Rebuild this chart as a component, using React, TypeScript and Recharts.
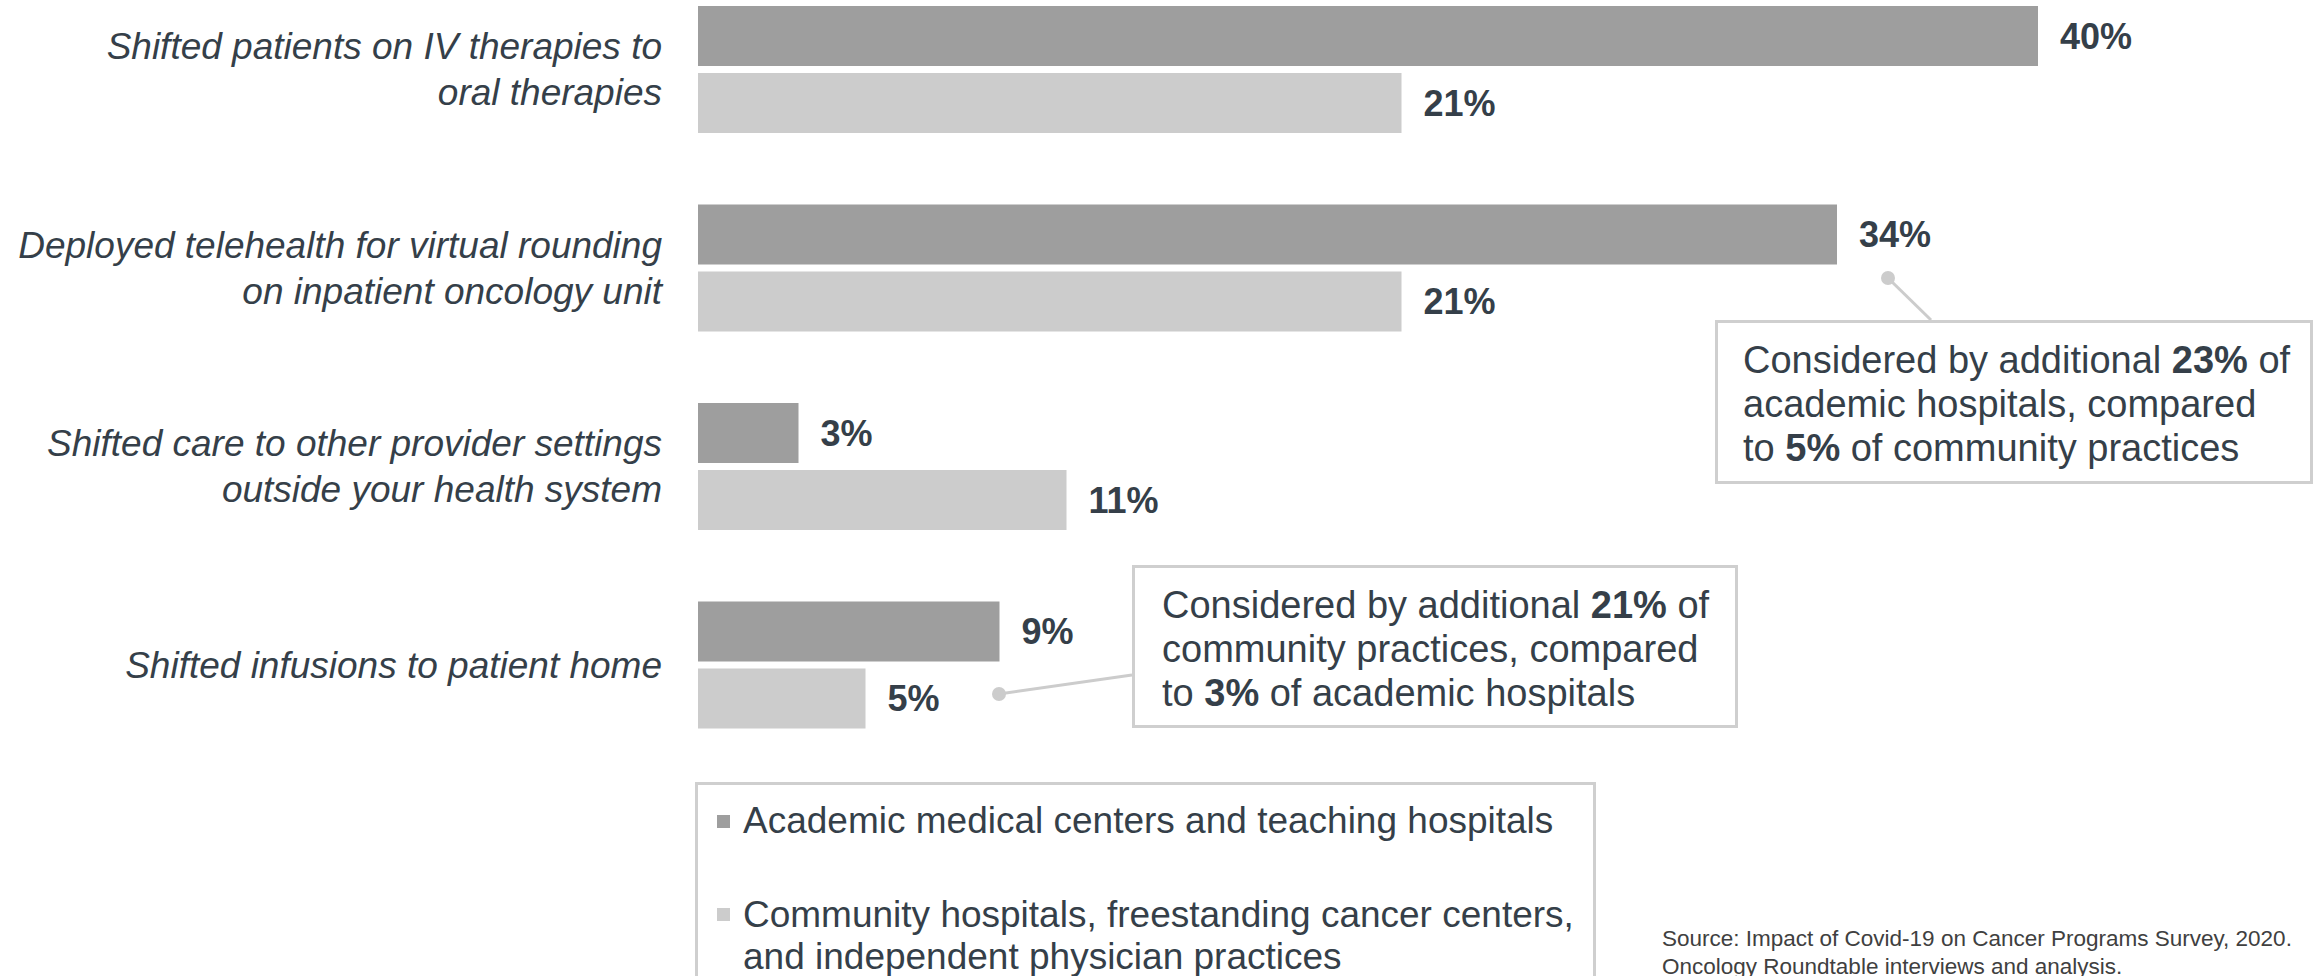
import { BarChart, Bar, XAxis, YAxis, LabelList } from "recharts";

const categories = [
    ["Shifted patients on IV therapies to", "oral therapies"],
    ["Deployed telehealth for virtual rounding", "on inpatient oncology unit"],
    ["Shifted care to other provider settings", "outside your health system"],
    ["Shifted infusions to patient home"],
];
const academic = [40, 34, 3, 9];
const community = [21, 21, 11, 5];
const seriesNames = [
    "Academic medical centers and teaching hospitals",
    "Community hospitals, freestanding cancer centers, and independent physician practices",
];

const TEXT = "#353f49";
const DARK = "#9e9e9e";
const LIGHT = "#cccccc";
const BORDER = "#cfcfcf";
const FONT = "'Liberation Sans', Arial, Helvetica, sans-serif";

const data = categories.map((lines, i) => ({
    name: lines.join(" "),
    lines,
    academic: academic[i],
    community: community[i],
}));

function CategoryTick(props: any) {
    const { x, y, payload, index } = props;
    const lines: string[] = data[index]?.lines ?? [payload.value];
    const lh = 46;
    const start = -((lines.length - 1) * lh) / 2;
    return (
        <text x={x} y={y} textAnchor="end" fontStyle="italic" fontSize={37} fill={TEXT} fontFamily={FONT}>
            {lines.map((l, i) => (
                <tspan key={i} x={x} y={y + start + i * lh + 13}>{l}</tspan>
            ))}
        </text>
    );
}

const boxText: React.CSSProperties = {
    position: "absolute",
    boxSizing: "border-box",
    border: `3px solid ${BORDER}`,
    background: "#fff",
    fontSize: 38,
    lineHeight: "44px",
    color: TEXT,
    whiteSpace: "nowrap",
};

export default function App() {
    return (
        <div style={{ position: "absolute", left: 0, top: 0, width: 2315, height: 976, overflow: "hidden", background: "#fff", fontFamily: FONT }}>
            <div style={{ position: "absolute", left: 0, top: -30 }}>
                <BarChart
                    width={2315}
                    height={800}
                    data={data}
                    layout="vertical"
                    margin={{ top: 0, right: 9, bottom: 6, left: 0 }}
                    barSize={60}
                    barGap={7}
                >
                    <XAxis type="number" domain={[0, 48]} hide />
                    <YAxis
                        type="category"
                        dataKey="name"
                        width={698}
                        tickLine={false}
                        axisLine={false}
                        tickSize={0}
                        tickMargin={36}
                        tick={<CategoryTick />}
                        interval={0}
                    />
                    <Bar dataKey="academic" fill={DARK} isAnimationActive={false}>
                        <LabelList dataKey="academic" position="right" offset={22} formatter={(v: any) => `${v}%`}
                            style={{ fontSize: 36, fontWeight: 700, fill: TEXT, fontFamily: FONT }} />
                    </Bar>
                    <Bar dataKey="community" fill={LIGHT} isAnimationActive={false}>
                        <LabelList dataKey="community" position="right" offset={22} formatter={(v: any) => `${v}%`}
                            style={{ fontSize: 36, fontWeight: 700, fill: TEXT, fontFamily: FONT }} />
                    </Bar>
                </BarChart>
            </div>

            {/* callout connectors */}
            <svg width={2315} height={976} style={{ position: "absolute", left: 0, top: 0, pointerEvents: "none" }}>
                <line x1={1888} y1={278} x2={1931} y2={320} stroke={LIGHT} strokeWidth={3} />
                <circle cx={1888} cy={278} r={7} fill={LIGHT} />
                <line x1={999} y1={694} x2={1132} y2={675} stroke={LIGHT} strokeWidth={3} />
                <circle cx={999} cy={694} r={7} fill={LIGHT} />
            </svg>

            <div style={{ ...boxText, left: 1715, top: 320, width: 598, height: 164, padding: "15px 0 0 25px" }}>
                Considered by additional <b>23%</b> of<br />
                academic hospitals, compared<br />
                to <b>5%</b> of community practices
            </div>
            <div style={{ ...boxText, left: 1132, top: 565, width: 606, height: 163, padding: "15px 0 0 27px" }}>
                Considered by additional <b>21%</b> of<br />
                community practices, compared<br />
                to <b>3%</b> of academic hospitals
            </div>

            {/* legend */}
            <div style={{ position: "absolute", boxSizing: "border-box", left: 695, top: 782, width: 901, height: 240, border: `3px solid ${BORDER}`, color: TEXT, fontSize: 37, lineHeight: "42px", whiteSpace: "nowrap" }}>
                <div style={{ position: "absolute", left: 19, top: 30, width: 13, height: 13, background: DARK }} />
                <div style={{ position: "absolute", left: 45, top: 15 }}>{seriesNames[0]}</div>
                <div style={{ position: "absolute", left: 19, top: 123, width: 13, height: 13, background: LIGHT }} />
                <div style={{ position: "absolute", left: 45, top: 109 }}>
                    Community hospitals, freestanding cancer centers,<br />
                    and independent physician practices
                </div>
            </div>

            <div style={{ position: "absolute", left: 1662, top: 925, fontSize: 22.5, lineHeight: "28px", color: "#404040", whiteSpace: "nowrap" }}>
                Source: Impact of Covid-19 on Cancer Programs Survey, 2020.<br />
                Oncology Roundtable interviews and analysis.
            </div>
        </div>
    );
}
